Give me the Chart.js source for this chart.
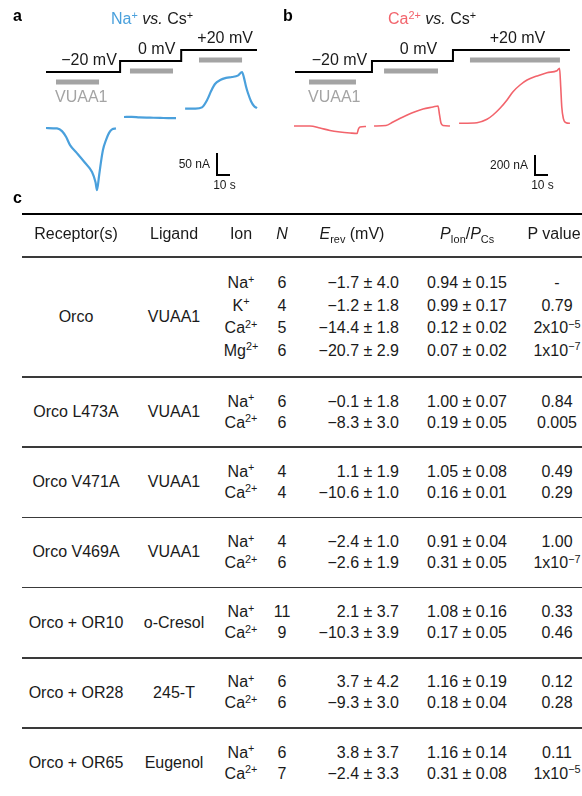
<!DOCTYPE html>
<html>
<head>
<meta charset="utf-8">
<script src="https://cdn.jsdelivr.net/npm/chart.js@4.4.1/dist/chart.umd.min.js"></script>
<style>
  body { margin: 0; background: #fff; }
  #fig { position: relative; width: 582px; height: 796px; overflow: hidden;
         font-family: "Liberation Sans", Arial, sans-serif; color: #1a1a1a; background: #fff; }
  #fig canvas { position: absolute; top: 0; }
  .t { position: absolute; white-space: nowrap; }
  sup, sub { font-size: 0.68em; line-height: 0; position: relative; vertical-align: baseline; }
  sup { top: -0.5em; }
  sub { top: 0.3em; }
  .rule { position: absolute; left: 22px; right: 0; }
</style>
</head>
<body>
<div id="fig">
  <canvas id="chartA" width="290" height="200" style="left:0"></canvas>
  <canvas id="chartB" width="292" height="200" style="left:290px"></canvas>
</div>
<script>
// ---- panel a: Na+ vs Cs+ (time in s, current in nA) ----
const naT1 = [0, 8.5, 12.3, 15.4, 18.5, 23.8, 30, 35.4, 38.1, 39.2, 40.8, 42.3, 43.8, 46.2, 48.5, 50.8, 53.8];
const naI1 = [0, -1, -7, -20, -39, -57, -79, -100, -123, -141, -109, -77, -50, -27, -11, -3, -1];
const naT2 = [60, 66, 72, 80, 88, 94, 100];
const naI2 = [25, 25.5, 24, 23.5, 23, 22.5, 22.5];
const naT3 = [107, 115, 120, 124, 127, 130, 134, 138.5, 143, 147.5, 150.8, 152.3, 153.8, 155.4, 157.7, 160, 162.3];
const naI3 = [44, 44, 47, 64, 84, 100, 109, 114, 116, 119, 127, 114, 95, 79, 61, 50, 45];
const cmdTimesA = [0, 57, 104, 162.3];
const cmdVoltsA = [-20, 0, 20, 20];
const vuaaOnA = [7.7, 64.6, 117.7];
const vuaaOffA = [40.8, 97.7, 150.8];

// ---- panel b: Ca2+ vs Cs+ ----
const caT1 = [-0.8, 11.5, 19.2, 26.9, 34.6, 42.3, 47.7, 48.8, 50, 54.6];
const caI1 = [0, 0, -20, -45, -60, -70, -75, -30, -10, -5];
const caT2 = [60.8, 70, 75.4, 83.1, 90.8, 98.5, 106.2, 110, 111.2, 112.3, 113.8, 119.2];
const caI2 = [0, 5, 40, 90, 135, 170, 190, 200, 110, 30, 5, 0];
const caT3 = [126.2, 140, 147.7, 152.3, 157.7, 163.1, 167.7, 173.1, 178.5, 186.2, 193.8, 201.5, 203.5, 204.4, 205.2, 206.4, 208.5, 211.5];
const caI3 = [27, 33, 67, 110, 177, 260, 343, 410, 460, 500, 533, 553, 577, 393, 193, 77, 33, 27];
const cmdTimesB = [0, 59.2, 121.5, 211.5];
const cmdVoltsB = [-20, 0, 20, 20];
const vuaaOnB = [10.8, 68.5, 134.6];
const vuaaOffB = [46.9, 110, 203.8];

// ---- panel c: table ----
const receptors = ["Orco", "Orco L473A", "Orco V471A", "Orco V469A", "Orco + OR10", "Orco + OR28", "Orco + OR65"];
const ligands = ["VUAA1", "VUAA1", "VUAA1", "VUAA1", "o-Cresol", "245-T", "Eugenol"];
const ions = [["Na+", "K+", "Ca2+", "Mg2+"], ["Na+", "Ca2+"], ["Na+", "Ca2+"], ["Na+", "Ca2+"], ["Na+", "Ca2+"], ["Na+", "Ca2+"], ["Na+", "Ca2+"]];
const nCells = [[6, 4, 5, 6], [6, 6], [4, 4], [4, 6], [11, 9], [6, 6], [6, 7]];
const erevMean = [[-1.7, -1.2, -14.4, -20.7], [-0.1, -8.3], [1.1, -10.6], [-2.4, -2.6], [2.1, -10.3], [3.7, -9.3], [3.8, -2.4]];
const erevErr = [[4.0, 1.8, 1.8, 2.9], [1.8, 3.0], [1.9, 1.0], [1.0, 1.9], [3.7, 3.9], [4.2, 3.0], [3.7, 3.3]];
const ratioMean = [[0.94, 0.99, 0.12, 0.07], [1.00, 0.19], [1.05, 0.16], [0.91, 0.31], [1.08, 0.17], [1.16, 0.18], [1.16, 0.31]];
const ratioErr = [[0.15, 0.17, 0.02, 0.02], [0.07, 0.05], [0.08, 0.01], [0.04, 0.05], [0.16, 0.05], [0.19, 0.04], [0.14, 0.08]];
const pValues = [["-", "0.79", "2x10^-5", "1x10^-7"], ["0.84", "0.005"], ["0.49", "0.29"], ["1.00", "1x10^-7"], ["0.33", "0.46"], ["0.12", "0.28"], ["0.11", "1x10^-5"]];

const BLUE = "#4aa0dc";
const RED = "#f2646c";
const GREY = "#a4a4a4";
const fig = document.getElementById("fig");

// put a piece of text with its baseline at y
function txt(html, x, base, size, align, extra) {
  const d = document.createElement("div");
  d.className = "t";
  d.innerHTML = html;
  d.style.fontSize = size + "px";
  d.style.lineHeight = size + "px";
  d.style.left = x + "px";
  d.style.top = (base - 0.8465 * size) + "px";
  if (align == "center") d.style.transform = "translateX(-50%)";
  if (align == "right") d.style.transform = "translateX(-100%)";
  if (extra) Object.assign(d.style, extra);
  fig.appendChild(d);
  return d;
}

function pts(t, v) {
  return t.map((x, i) => ({ x: x, y: v[i] }));
}

function voltAt(times, volts, t) {
  let v = volts[0];
  for (let i = 0; i < times.length; i++) if (t >= times[i]) v = volts[i];
  return v;
}

function makePanel(id, p) {
  const datasets = p.traces.map(tr => ({
    data: pts(tr[0], tr[1]),
    borderColor: p.color,
    borderWidth: p.lw,
    pointRadius: 0,
    cubicInterpolationMode: "monotone",
    yAxisID: "y",
  }));
  datasets.push({
    data: pts(p.cmdT, p.cmdV),
    stepped: true,
    borderColor: "#000",
    borderWidth: 2,
    pointRadius: 0,
    yAxisID: "yv",
  });

  const marks = {
    id: "marks",
    afterDatasetsDraw(chart) {
      const ctx = chart.ctx, xs = chart.scales.x, ys = chart.scales.y, yv = chart.scales.yv;
      ctx.save();
      ctx.fillStyle = GREY;
      p.on.forEach((t0, i) => {
        const x0 = xs.getPixelForValue(t0), x1 = xs.getPixelForValue(p.off[i]);
        const yl = yv.getPixelForValue(voltAt(p.cmdT, p.cmdV, t0));
        ctx.fillRect(x0, yl + 10 - 2.5, x1 - x0, 5);
      });
      // scale bar
      const h = Math.abs(ys.getPixelForValue(p.barNA) - ys.getPixelForValue(0));
      const w = xs.getPixelForValue(10) - xs.getPixelForValue(0);
      ctx.strokeStyle = "#000";
      ctx.lineWidth = 2;
      ctx.lineCap = "butt";
      ctx.lineJoin = "miter";
      ctx.beginPath();
      ctx.moveTo(p.corner[0], p.corner[1] - h);
      ctx.lineTo(p.corner[0], p.corner[1]);
      ctx.lineTo(p.corner[0] + w, p.corner[1]);
      ctx.stroke();
      ctx.restore();
    }
  };

  const chart = new Chart(document.getElementById(id), {
    type: "line",
    data: { datasets: datasets },
    options: {
      responsive: false,
      animation: false,
      devicePixelRatio: 1,
      events: [],
      layout: { padding: 0 },
      plugins: { legend: { display: false }, tooltip: { enabled: false } },
      scales: {
        x: { type: "linear", display: false, min: p.xr[0], max: p.xr[1] },
        y: { display: false, min: p.yr[0], max: p.yr[1] },
        yv: { display: false, min: -252.7, max: 110.9 },
      },
    },
    plugins: [marks],
  });

  // labels placed through the chart scales
  const xs = chart.scales.x, ys = chart.scales.y, yv = chart.scales.yv;
  for (let i = 0; i < p.cmdT.length - 1; i++) {
    const xm = (xs.getPixelForValue(p.cmdT[i]) + xs.getPixelForValue(p.cmdT[i + 1])) / 2 + 6;
    const lbl = (p.cmdV[i] > 0 ? "+" : p.cmdV[i] < 0 ? "−" : "") + Math.abs(p.cmdV[i]) + " mV";
    txt(lbl, p.left + xm, yv.getPixelForValue(p.cmdV[i]) - 6, 16, "center");
  }
  const vy = yv.getPixelForValue(voltAt(p.cmdT, p.cmdV, p.on[0])) + 10;
  txt("VUAA1", p.left + xs.getPixelForValue(p.on[0]) - 1, vy + 21, 16, "left", { color: GREY });
  const h = Math.abs(ys.getPixelForValue(p.barNA) - ys.getPixelForValue(0));
  const w = xs.getPixelForValue(10) - xs.getPixelForValue(0);
  txt(p.barNA + " nA", p.left + p.corner[0] - 7, p.corner[1] - h / 2 + 4.3, 12, "right");
  txt("10 s", p.left + p.corner[0] + w / 2 + 1, p.corner[1] + 14, 12, "center");
  return chart;
}

makePanel("chartA", {
  left: 0, color: BLUE, lw: 2.2,
  traces: [[naT1, naI1], [naT2, naI2], [naT3, naI3]],
  cmdT: cmdTimesA, cmdV: cmdVoltsA, on: vuaaOnA, off: vuaaOffA,
  xr: [-35.385, 187.69], yr: [-163.6, 290.9],
  barNA: 50, corner: [217, 175],
});
makePanel("chartB", {
  left: 290, color: RED, lw: 1.6,
  traces: [[caT1, caI1], [caT2, caI2], [caT3, caI3]],
  cmdT: cmdTimesB, cmdV: cmdVoltsB, on: vuaaOnB, off: vuaaOffB,
  xr: [-3.846, 220.77], yr: [-740, 1260],
  barNA: 200, corner: [245, 175],
});

// titles and panel letters
txt("a", 13, 22, 16, "left", { fontWeight: "bold", color: "#000" });
txt("b", 283, 22, 16, "left", { fontWeight: "bold", color: "#000" });
txt("c", 13, 204, 16, "left", { fontWeight: "bold", color: "#000" });
txt('<span style="color:' + BLUE + '">Na<sup>+</sup></span> <i>vs.</i> Cs<sup>+</sup>', 152, 25, 16, "center");
txt('<span style="color:' + RED + '">Ca<sup>2+</sup></span> <i>vs.</i> Cs<sup>+</sup>', 432, 25, 16, "center");

// ---- table ----
function rule(y, th, col) {
  const d = document.createElement("div");
  d.className = "rule";
  d.style.top = (y - th / 2) + "px";
  d.style.height = th + "px";
  d.style.background = col;
  fig.appendChild(d);
}
const ionHtml = s => s.replace(/^([A-Z][a-z]?)(\d?[+-])$/, "$1<sup>$2</sup>");
const minus = s => s.replace("-", "−");
const pHtml = s => s.replace(/\^(-?\d+)$/, (m, e) => "<sup>" + minus(e) + "</sup>");

const COL = { rec: 76, lig: 174, ion: 241, n: 282, erevH: 352, erev: 399, ratioH: 467, ratio: 467, pH: 554, p: 557 };
const FS = 16;

rule(214, 2.5, "#000");
const hb = 240;
txt("Receptor(s)", COL.rec, hb, FS, "center");
txt("Ligand", COL.lig, hb, FS, "center");
txt("Ion", COL.ion, hb, FS, "center");
txt("<i>N</i>", COL.n, hb, FS, "center");
txt("<i>E</i><sub>rev</sub> (mV)", COL.erevH, hb, FS, "center");
txt("<i>P</i><sub>Ion</sub>/<i>P</i><sub>Cs</sub>", COL.ratioH, hb, FS, "center");
txt("P value", COL.pH, hb, FS, "center");
rule(257, 1.5, "#3a3a3a");

let rowTop = 257;
receptors.forEach((r, g) => {
  const nr = ions[g].length;
  const gh = nr == 4 ? 120 : 70.2;
  const mid = rowTop + gh / 2;
  const rs = nr == 4 ? 22.5 : 21;
  txt(r, COL.rec, mid + 5.5, FS, "center");
  txt(ligands[g], COL.lig, mid + 5.5, FS, "center");
  ions[g].forEach((ion, k) => {
    const y = mid + (k - (nr - 1) / 2) * rs + 5.5;
    txt(ionHtml(ion), COL.ion, y, FS, "center");
    txt(String(nCells[g][k]), COL.n, y, FS, "center");
    txt(minus(erevMean[g][k].toFixed(1)) + " ± " + erevErr[g][k].toFixed(1), COL.erev, y, FS, "right");
    txt(ratioMean[g][k].toFixed(2) + " ± " + ratioErr[g][k].toFixed(2), COL.ratio, y, FS, "center");
    txt(pHtml(pValues[g][k]), COL.p, y, FS, "center");
  });
  rowTop += gh;
  if (g < receptors.length - 1) rule(rowTop, 1.5, "#3a3a3a");
});
</script>
</body>
</html>
